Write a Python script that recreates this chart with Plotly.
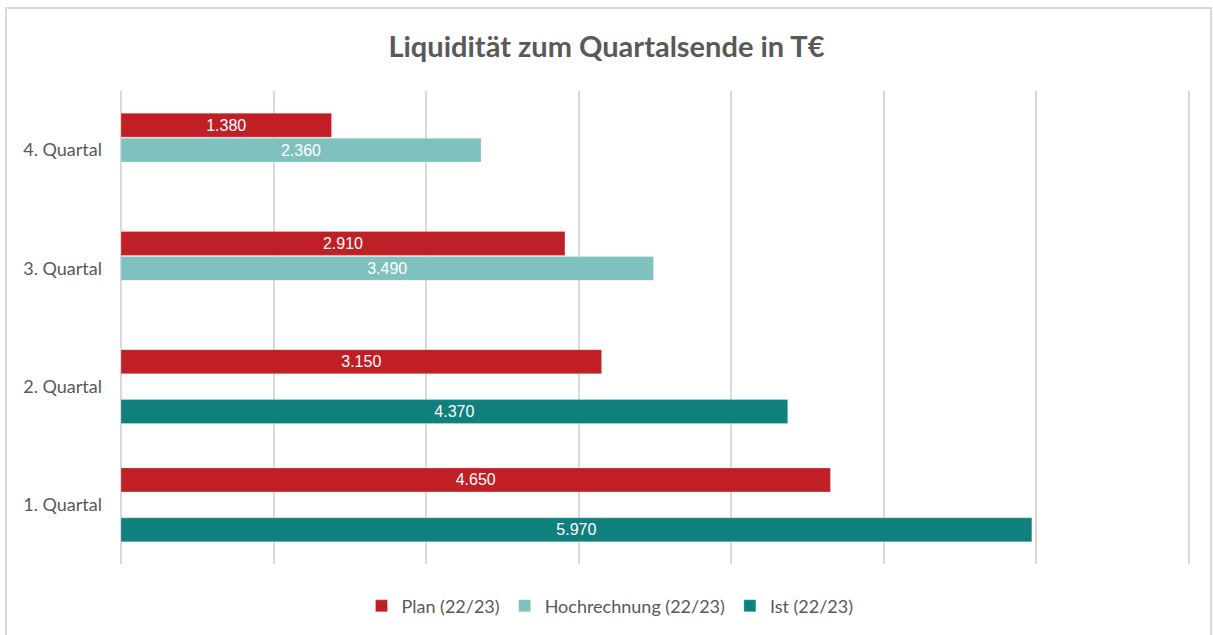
import plotly.graph_objects as go

categories = ["1. Quartal", "2. Quartal", "3. Quartal", "4. Quartal"]
plan = [4650, 3150, 2910, 1380]
hochrechnung = [None, None, 3490, 2360]
ist = [5970, 4370, None, None]

series_names = ["Plan (22/23)", "Hochrechnung (22/23)", "Ist (22/23)"]
colors = ["#C11F26", "#7FC1BE", "#0F807D"]


def fmt(vals):
    return ["" if v is None else f"{v:,}".replace(",", ".") for v in vals]


fig = go.Figure()
# Plotly stacks horizontal groups bottom-up: add Ist first so Plan ends up on top
for name, vals, col in [(series_names[2], ist, colors[2]),
                        (series_names[1], hochrechnung, colors[1]),
                        (series_names[0], plan, colors[0])]:
    fig.add_trace(go.Bar(
        y=categories, x=vals, name=name, orientation="h",
        marker=dict(color=col, line=dict(color="rgba(255,255,255,0.5)", width=0.5)),
        text=fmt(vals), textposition="inside", insidetextanchor="middle",
        textangle=0, constraintext="none",
        textfont=dict(family="Liberation Sans, Arial", size=16, color="white"),
        hoverinfo="x+name",
    ))

plot_w = 1072
fig.update_layout(
    width=1213, height=635,
    paper_bgcolor="white", plot_bgcolor="white",
    margin=dict(l=121, r=1213 - 121 - plot_w, t=91, b=71, autoexpand=False),
    barmode="group", bargap=0.366, bargroupgap=0.04,
    title=dict(text="<b>Liquidität zum Quartalsende in T€</b>",
               x=0.5, xref="container", xanchor="center", y=0.926, yanchor="middle",
               font=dict(family="Lato, Open Sans", size=29, color="#595959")),
    xaxis=dict(range=[0, 7000 * plot_w / 1068], tick0=0, dtick=1000, showticklabels=False,
               showgrid=True, gridcolor="#D9D9D9", gridwidth=1.5,
               zeroline=True, zerolinecolor="#D9D9D9", zerolinewidth=1.5,
               showline=False, fixedrange=True),
    yaxis=dict(categoryorder="array", categoryarray=categories,
               showgrid=False, zeroline=False, showline=False,
               ticks="", ticklabelstandoff=18, fixedrange=True,
               tickfont=dict(family="Lato, Open Sans", size=18, color="#595959")),
    legend=dict(orientation="h", x=(610 - 121) / plot_w, xanchor="center",
                y=-0.089, yanchor="middle",
                traceorder="reversed", itemwidth=30,
                font=dict(family="Lato, Open Sans", size=18, color="#595959")),
    shapes=[dict(type="rect", xref="paper", yref="paper",
                 x0=(6 - 121) / plot_w, x1=(1211 - 121) / plot_w,
                 y0=(564 - 640) / 473, y1=(564 - 8) / 473,
                 line=dict(color="#D9D9D9", width=2), fillcolor="rgba(0,0,0,0)",
                 layer="below")],
)

fig.write_html("out.html", config={"displayModeBar": False},
               post_script="document.body.style.margin='0';")
